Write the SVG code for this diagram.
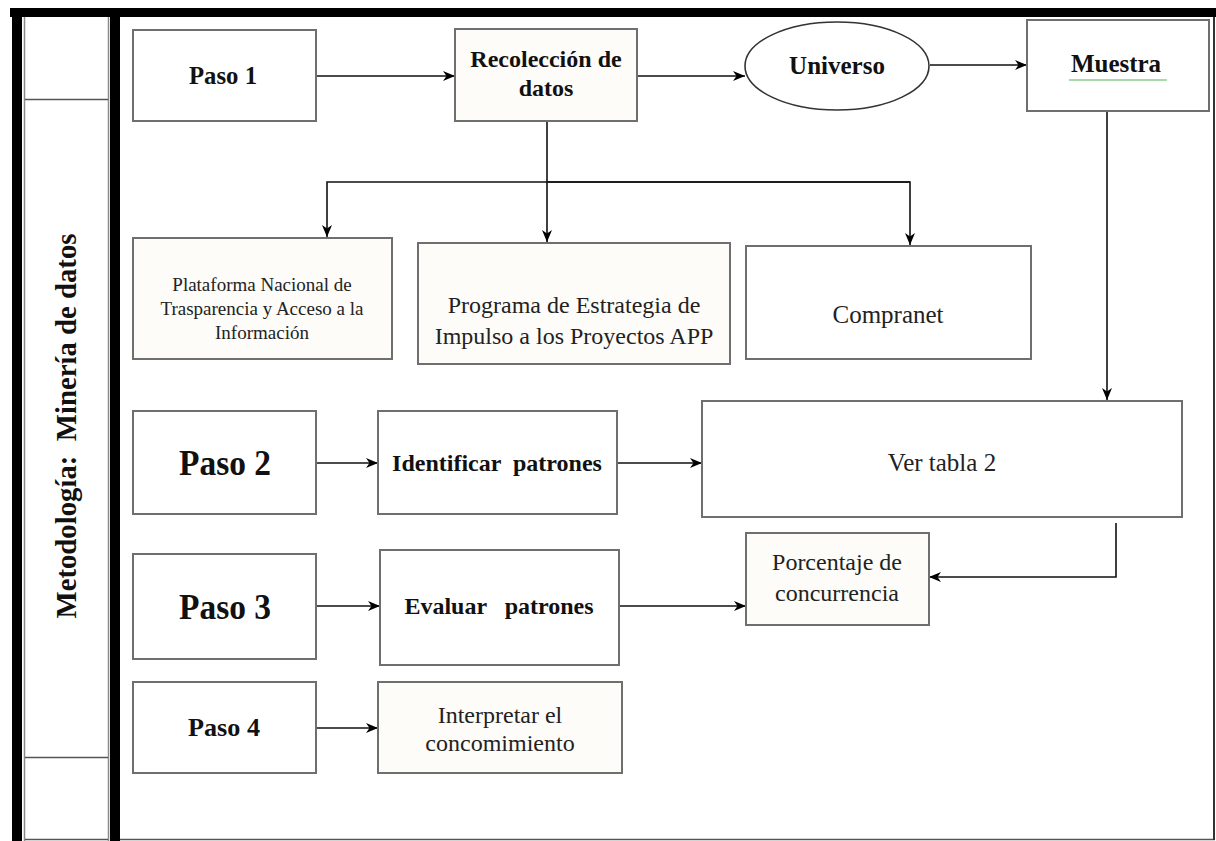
<svg xmlns="http://www.w3.org/2000/svg" width="1216" height="841" viewBox="0 0 1216 841">
<defs>
<marker id="ah" markerWidth="13" markerHeight="12" refX="12" refY="6" orient="auto" markerUnits="userSpaceOnUse">
<path d="M0,1 L12,6 L0,11 L3.5,6 Z" fill="#000"/>
</marker>
<style>
.box{fill:#fdfcf9;stroke:#6f6f6f;stroke-width:2}
.wbox{fill:#ffffff;stroke:#6f6f6f;stroke-width:2}
.b{font-family:"Liberation Serif","Times New Roman",serif;font-weight:bold;fill:#111;text-anchor:middle;white-space:pre}
.r{font-family:"Liberation Serif","Times New Roman",serif;fill:#222;text-anchor:middle;white-space:pre}
.c{fill:none;stroke:#111;stroke-width:1.6}
.cm{fill:none;stroke:#111;stroke-width:1.6;marker-end:url(#ah)}
</style>
</defs>
<rect x="0" y="0" width="1216" height="841" fill="#ffffff"/>
<g id="frame">
<rect x="10" y="8" width="1206" height="9" fill="#000"/>
<rect x="12" y="8" width="10" height="833" fill="#000"/>
<line x1="24.5" y1="17" x2="24.5" y2="841" stroke="#8a8a8a" stroke-width="1.5"/>
<line x1="108.5" y1="17" x2="108.5" y2="841" stroke="#8a8a8a" stroke-width="1.5"/>
<rect x="110" y="17" width="10" height="824" fill="#000"/>
<line x1="25" y1="99.5" x2="108" y2="99.5" stroke="#555" stroke-width="1.5"/>
<line x1="25" y1="757.5" x2="108" y2="757.5" stroke="#555" stroke-width="1.5"/>
<line x1="25" y1="839.5" x2="108" y2="839.5" stroke="#555" stroke-width="1.5"/>
<line x1="120" y1="839.5" x2="1215" y2="839.5" stroke="#555" stroke-width="1.5"/>
<line x1="1214" y1="17" x2="1214" y2="840" stroke="#333" stroke-width="2"/>
<text class="b" x="0" y="0" font-size="29" transform="translate(76,426) rotate(-90)" textLength="385" lengthAdjust="spacingAndGlyphs">Metodología:  Minería de datos</text>
</g>
<g id="connectors">
<line class="cm" x1="316" y1="76" x2="455" y2="76"/>
<line class="cm" x1="637" y1="76" x2="745" y2="76"/>
<line class="cm" x1="930" y1="65" x2="1027" y2="65"/>
<line class="c" x1="547" y1="121" x2="547" y2="182"/>
<polyline class="cm" points="547,182 547,242"/>
<polyline class="cm" points="910,182 327,182 327,237"/>
<polyline class="cm" points="547,182 910,182 910,245"/>
<line class="cm" x1="1107" y1="111" x2="1107" y2="400"/>
<line class="cm" x1="316" y1="463" x2="378" y2="463"/>
<line class="cm" x1="617" y1="463" x2="702" y2="463"/>
<line class="cm" x1="316" y1="606" x2="380" y2="606"/>
<line class="cm" x1="619" y1="606" x2="746" y2="606"/>
<polyline class="cm" points="1116,523 1116,577 929,577"/>
<line class="cm" x1="316" y1="728" x2="378" y2="728"/>
</g>
<g id="paso1">
<rect class="wbox" x="133" y="30" width="183" height="91"/>
<text class="b" x="223" y="84" font-size="25" textLength="68" lengthAdjust="spacingAndGlyphs">Paso 1</text>
</g>
<g id="recoleccion">
<rect class="box" x="455" y="29" width="182" height="92"/>
<text class="b" x="546" y="67" font-size="24">Recolección de</text>
<text class="b" x="546" y="96" font-size="24">datos</text>
</g>
<g id="universo">
<ellipse cx="837" cy="66" rx="92" ry="44" fill="#fff" stroke="#333" stroke-width="1.6"/>
<text class="b" x="837" y="74" font-size="25">Universo</text>
</g>
<g id="muestra">
<rect class="wbox" x="1027" y="20" width="182" height="91"/>
<text class="b" x="1116" y="72" font-size="25">Muestra</text>
<line x1="1069" y1="80" x2="1167" y2="80" stroke="#a9d8a9" stroke-width="2"/>
</g>
<g id="plataforma">
<rect class="box" x="133" y="238" width="259" height="121"/>
<text class="r" x="262" y="291" font-size="19">Plataforma Nacional de</text>
<text class="r" x="262" y="315" font-size="19">Trasparencia y Acceso a la</text>
<text class="r" x="262" y="339" font-size="19">Información</text>
</g>
<g id="programa">
<rect class="box" x="418" y="243" width="312" height="121"/>
<text class="r" x="574" y="313" font-size="24">Programa de Estrategia de</text>
<text class="r" x="574" y="344" font-size="24">Impulso a los Proyectos APP</text>
</g>
<g id="compranet">
<rect class="wbox" x="746" y="246" width="285" height="113"/>
<text class="r" x="888" y="323" font-size="25">Compranet</text>
</g>
<g id="paso2">
<rect class="wbox" x="133" y="411" width="183" height="103"/>
<text class="b" x="225" y="475" font-size="35" textLength="92" lengthAdjust="spacingAndGlyphs">Paso 2</text>
</g>
<g id="identificar">
<rect class="wbox" x="378" y="411" width="239" height="103"/>
<text class="b" x="497" y="471" font-size="24">Identificar  patrones</text>
</g>
<g id="vertabla">
<rect class="wbox" x="702" y="401" width="480" height="116"/>
<text class="r" x="942" y="471" font-size="25">Ver tabla 2</text>
</g>
<g id="paso3">
<rect class="wbox" x="133" y="554" width="183" height="105"/>
<text class="b" x="225" y="619" font-size="35" textLength="92" lengthAdjust="spacingAndGlyphs">Paso 3</text>
</g>
<g id="evaluar">
<rect class="wbox" x="380" y="550" width="239" height="115"/>
<text class="b" x="499" y="614" font-size="24">Evaluar   patrones</text>
</g>
<g id="porcentaje">
<rect class="box" x="746" y="533" width="183" height="92"/>
<text class="r" x="837" y="570" font-size="24">Porcentaje de</text>
<text class="r" x="837" y="601" font-size="24">concurrencia</text>
</g>
<g id="paso4">
<rect class="wbox" x="133" y="682" width="183" height="91"/>
<text class="b" x="224" y="736" font-size="25" textLength="72" lengthAdjust="spacingAndGlyphs">Paso 4</text>
</g>
<g id="interpretar">
<rect class="box" x="378" y="682" width="244" height="91"/>
<text class="r" x="500" y="723" font-size="24">Interpretar el</text>
<text class="r" x="500" y="751" font-size="24">concomimiento</text>
</g>
</svg>
